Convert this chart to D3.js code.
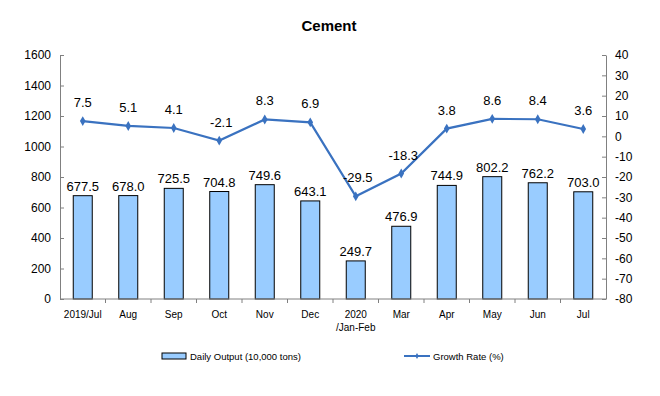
<!DOCTYPE html>
<html>
<head>
  <meta charset="utf-8">
  <script src="https://d3js.org/d3.v7.min.js"></script>
  <style>
    body { margin:0; background:#fff; }
    text { font-family: "Liberation Sans", Arial, sans-serif; }
  </style>
</head>
<body>
  <script>
    // data
    var months = ["2019/Jul", "Aug", "Sep", "Oct", "Nov", "Dec", "2020\n/Jan-Feb", "Mar", "Apr", "May", "Jun", "Jul"];
    var output = [677.5, 678.0, 725.5, 704.8, 749.6, 643.1, 249.7, 476.9, 744.9, 802.2, 762.2, 703.0];
    var growth = [7.5, 5.1, 4.1, -2.1, 8.3, 6.9, -29.5, -18.3, 3.8, 8.6, 8.4, 3.6];
    var leftTicks = [0, 200, 400, 600, 800, 1000, 1200, 1400, 1600];
    var rightTicks = [-80, -70, -60, -50, -40, -30, -20, -10, 0, 10, 20, 30, 40];

    var W = 660, H = 396;
    var pLeft = 60, pRight = 606, pTop = 55, pBottom = 299;
    var lineColor = "#3a72c0";

    var svg = d3.select("body").append("svg")
      .attr("width", W)
      .attr("height", H);

    var x = d3.scaleBand().domain(months).range([pLeft, pRight]);
    var yL = d3.scaleLinear().domain([0, 1600]).range([pBottom, pTop]);
    var yR = d3.scaleLinear().domain([-80, 40]).range([pBottom, pTop]);
    var cx = function(i) { return x(months[i]) + x.bandwidth() / 2; };

    // title
    svg.append("text").text("Cement")
      .attr("x", 329).attr("y", 31)
      .attr("text-anchor", "middle")
      .attr("font-size", "15px")
      .attr("font-weight", "bold");

    // bars
    var bw = 19;
    svg.selectAll("rect.bar")
      .data(output)
      .enter().append("rect")
      .attr("class", "bar")
      .attr("x", function(d, i) { return cx(i) - bw / 2; })
      .attr("y", function(d) { return yL(d); })
      .attr("width", bw)
      .attr("height", function(d) { return pBottom - yL(d); })
      .attr("fill", "#99ccff")
      .attr("stroke", "#000")
      .attr("stroke-width", 1);

    svg.selectAll("text.blab")
      .data(output)
      .enter().append("text")
      .attr("class", "blab")
      .text(function(d) { return d.toFixed(1); })
      .attr("x", function(d, i) { return cx(i); })
      .attr("y", function(d) { return yL(d) - 5; })
      .attr("text-anchor", "middle")
      .attr("font-size", "13px");

    // axes (plain hyphen for negatives, like the original)
    var fmt = function(d) { return String(d); };
    var axL = svg.append("g").attr("transform", "translate(" + pLeft + ",0)")
      .call(d3.axisLeft(yL).tickValues(leftTicks).tickFormat(fmt)
        .tickSizeInner(-4).tickSizeOuter(0).tickPadding(9));
    var axR = svg.append("g").attr("transform", "translate(" + pRight + ",0)")
      .call(d3.axisRight(yR).tickValues(rightTicks).tickFormat(fmt)
        .tickSizeInner(-4).tickSizeOuter(0).tickPadding(9));
    [axL, axR].forEach(function(g) {
      g.selectAll("path, line").attr("stroke", "#808080");
      g.selectAll("text").attr("font-size", "12px").attr("fill", "#000");
    });

    // x axis line and ticks between categories
    svg.append("line")
      .attr("x1", pLeft).attr("x2", pRight)
      .attr("y1", pBottom).attr("y2", pBottom)
      .attr("stroke", "#808080");
    svg.selectAll("line.xt")
      .data(months.slice(1))
      .enter().append("line")
      .attr("class", "xt")
      .attr("x1", function(d) { return x(d); })
      .attr("x2", function(d) { return x(d); })
      .attr("y1", pBottom).attr("y2", pBottom + 4)
      .attr("stroke", "#808080");

    var xl = svg.selectAll("text.xl")
      .data(months)
      .enter().append("text")
      .attr("class", "xl")
      .attr("x", function(d, i) { return cx(i); })
      .attr("y", 318)
      .attr("text-anchor", "middle")
      .attr("font-size", "10px");
    xl.each(function(d) {
      var t = d3.select(this);
      d.split("\n").forEach(function(s, k) {
        t.append("tspan").text(s)
          .attr("x", t.attr("x"))
          .attr("dy", k === 0 ? 0 : 13);
      });
    });

    // growth line
    var line = d3.line()
      .x(function(d, i) { return cx(i); })
      .y(function(d) { return yR(d); });
    svg.append("path")
      .datum(growth)
      .attr("d", line)
      .attr("fill", "none")
      .attr("stroke", lineColor)
      .attr("stroke-width", 2.2);

    svg.selectAll("path.mk")
      .data(growth)
      .enter().append("path")
      .attr("class", "mk")
      .attr("d", d3.symbol().type(d3.symbolDiamond).size(28))
      .attr("transform", function(d, i) {
        return "translate(" + cx(i) + "," + yR(d) + ")";
      })
      .attr("fill", lineColor);

    svg.selectAll("text.glab")
      .data(growth)
      .enter().append("text")
      .attr("class", "glab")
      .text(function(d) { return d.toFixed(1); })
      .attr("x", function(d, i) { return cx(i) + (d < 0 ? 2 : 0); })
      .attr("y", function(d) { return yR(d) - 14; })
      .attr("text-anchor", "middle")
      .attr("font-size", "13px");

    // legend
    var lg = svg.append("g");
    lg.append("rect")
      .attr("x", 162).attr("y", 353)
      .attr("width", 24).attr("height", 6)
      .attr("fill", "#99ccff").attr("stroke", "#000");
    lg.append("text")
      .text("Daily Output (10,000 tons)")
      .attr("x", 190).attr("y", 360)
      .attr("font-size", "9.5px");
    lg.append("line")
      .attr("x1", 404).attr("x2", 430)
      .attr("y1", 356).attr("y2", 356)
      .attr("stroke", lineColor).attr("stroke-width", 2);
    lg.append("path")
      .attr("d", d3.symbol().type(d3.symbolDiamond).size(10))
      .attr("transform", "translate(417,356)")
      .attr("fill", lineColor);
    lg.append("text")
      .text("Growth Rate (%)")
      .attr("x", 433).attr("y", 360)
      .attr("font-size", "9.5px");
  </script>
</body>
</html>
